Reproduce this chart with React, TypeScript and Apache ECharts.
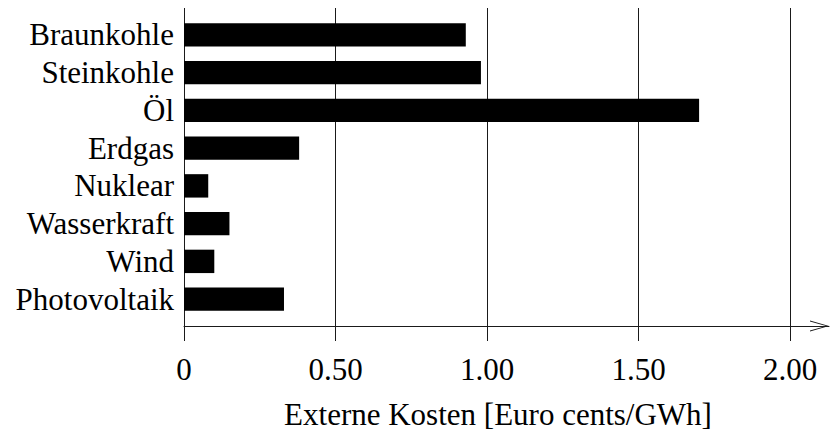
import React, { useEffect, useRef } from "react";
import * as echarts from "echarts";

const categories = ["Braunkohle", "Steinkohle", "Öl", "Erdgas", "Nuklear", "Wasserkraft", "Wind", "Photovoltaik"];
const costs = [0.93, 0.98, 1.7, 0.38, 0.08, 0.15, 0.1, 0.33];
const axisTitle = "Externe Kosten [Euro cents/GWh]";
const tickMin = 0;
const tickMax = 2;
const tickStep = 0.5;

const FONT = "Liberation Serif";
const INK = "#000";
const LINE = "#1a1a1a";

export default function App() {
  const ref = useRef<HTMLDivElement>(null);
  useEffect(() => {
    if (!ref.current) return;
    const chart = echarts.init(ref.current, null, { renderer: "svg" });
    const gridLeft = 184;
    chart.setOption({
      animation: false,
      backgroundColor: "#fff",
      grid: [
        { left: gridLeft, right: 40, top: 8, height: 318, containLabel: false },
        { left: gridLeft, right: 40, top: 16, height: 302, containLabel: false },
        { left: gridLeft, right: 1, top: 8, height: 318, containLabel: false },
      ],
      xAxis: [
        {
          gridIndex: 0,
          type: "value",
          min: tickMin,
          max: tickMax,
          interval: tickStep,
          axisLine: { show: false },
          axisTick: { show: true, length: 15, lineStyle: { color: LINE, width: 1 } },
          splitLine: { show: true, lineStyle: { color: LINE, width: 1 } },
          axisLabel: {
            margin: 28,
            color: INK,
            fontFamily: FONT,
            fontSize: 31,
            formatter: (v: number) => (v === 0 ? "0" : v.toFixed(2)),
          },
        },
        { gridIndex: 1, type: "value", min: tickMin, max: tickMax, show: false },
        {
          gridIndex: 2,
          type: "value",
          min: 0,
          max: 1,
          axisLine: {
            show: true,
            lineStyle: { color: LINE, width: 1 },
            symbol: ["none", "path://M0,19 L5.5,0 L11,19 L10,19 L5.5,3 L1,19 Z"],
            symbolSize: [11, 19],
            symbolOffset: [0, -9.5],
          },
          axisTick: { show: false },
          axisLabel: { show: false },
          splitLine: { show: false },
        },
      ],
      yAxis: [
        { gridIndex: 0, type: "value", show: false, min: 0, max: 1, splitLine: { show: false } },
        {
          gridIndex: 1,
          type: "category",
          data: categories,
          inverse: true,
          axisLine: { show: false },
          axisTick: { show: false },
          splitLine: { show: false },
          axisLabel: { interval: 0, margin: 10, color: INK, fontFamily: FONT, fontSize: 31 },
        },
        { gridIndex: 2, type: "value", show: false, min: 0, max: 1, splitLine: { show: false } },
      ],
      series: [
        {
          type: "bar",
          xAxisIndex: 1,
          yAxisIndex: 1,
          data: costs,
          barWidth: 23.4,
          itemStyle: { color: "#000" },
          z: 3,
        },
      ],
      graphic: [
        {
          type: "text",
          x: 498,
          y: 414,
          style: {
            text: axisTitle,
            fontFamily: FONT,
            fontSize: 31,
            fill: INK,
            align: "center",
            verticalAlign: "middle",
          },
        },
      ],
    });
    return () => chart.dispose();
  }, []);
  return <div ref={ref} style={{ position: "fixed", left: 0, top: 0, width: 830, height: 430 }} />;
}
